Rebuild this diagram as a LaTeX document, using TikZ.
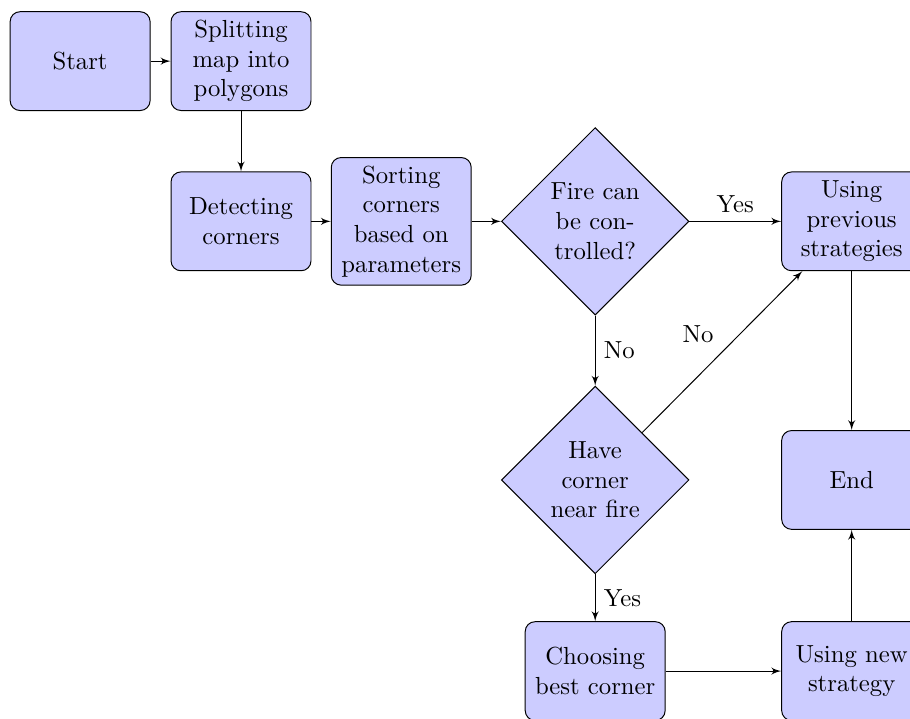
\documentclass[tikz,border=0pt]{standalone}
\usepackage{amsmath,amssymb}
\usepackage{tikz}
\usetikzlibrary{shapes.geometric,arrows}

\begin{document}
\begin{tikzpicture}[
	block/.style={rectangle, draw, fill=blue!20, text width=5em, text centered, rounded corners, minimum height=4em},
	decision/.style={diamond, draw, fill=blue!20, text width=4.5em, text badly centered, inner sep=0pt},
	line/.style={draw, -latex'}]
		\useasboundingbox (0,0) rectangle (12.95,-10.22);
		
		\node[block] (start) at (1.14,-0.87) {Start};
		\node[block] (split) at (3.43,-0.87) {Splitting map into polygons};
		\node[block] (detect) at (3.43,-3.15) {Detecting corners};
		\node[block] (sort) at (5.71,-3.15) {Sorting corners based on parameters};
		\node[decision] (fire) at (8.47,-3.15) {Fire can be controlled?};
		\node[block] (prev) at (12.12,-3.15) {Using previous strategies};
		\node[decision] (near) at (8.47,-6.83) {Have corner near fire};
		\node[block] (end) at (12.12,-6.83) {End};
		\node[block] (best) at (8.47,-9.55) {Choosing best corner};
		\node[block] (new) at (12.12,-9.55) {Using new strategy};
		
		\path[line] (start) -- (split);
		\path[line] (split) -- (detect);
		\path[line] (detect) -- (sort);
		\path[line] (sort) -- (fire);
		\path[line] (fire) -- node[above] {Yes} (prev);
		\path[line] (fire) -- node[right] {No} (near);
		\path[line] (near) -- node[midway, above left] {No} (prev);
		\path[line] (near) -- node[right] {Yes} (best);
		\path[line] (best) -- (new);
		\path[line] (new) -- (end);
		\path[line] (prev) -- (end);
	\end{tikzpicture}
\end{document}
